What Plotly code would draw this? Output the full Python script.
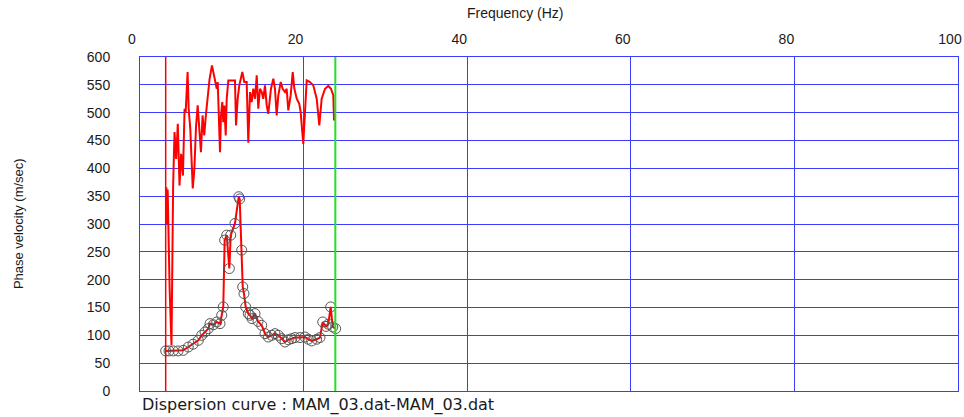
import plotly.graph_objects as go

# ---------------- data ----------------
# upper (noisy) branch: frequency (Hz), phase velocity (m/sec)
upper_freq = [3.22, 3.30, 3.38, 3.48, 3.62, 3.85, 4.05, 4.22, 4.42, 4.62, 4.83, 5.03, 5.25, 5.45,
              5.58, 5.82, 5.95, 6.15, 6.45, 6.65, 6.85, 7.05, 7.25, 7.45, 7.65, 7.85, 8.05, 8.25,
              8.50, 8.80, 9.17, 9.38, 9.50, 9.66, 9.78, 9.90, 10.06, 10.18, 10.31, 10.48, 10.60,
              10.80, 11.41, 11.61, 11.74, 11.94, 12.14, 12.51, 12.75, 13.04, 13.24, 13.45, 13.65,
              13.85, 14.06, 14.27, 14.46, 14.67, 14.88, 15.07, 15.28, 15.49, 15.68, 16.01, 16.30,
              16.50, 16.71, 16.91, 17.20, 17.44, 17.73, 17.93, 18.13, 18.42, 18.67, 18.87, 19.16,
              19.47, 19.64, 19.96, 20.17, 20.38, 20.78, 21.19, 21.60, 21.92, 22.21, 22.62, 23.02,
              23.35, 23.63, 23.72]
upper_vel = [366, 300, 362, 274, 185, 82, 369, 465, 417, 480, 369, 426, 387, 507,
             500, 573, 507, 470, 364, 400, 475, 513, 475, 429, 495, 459, 495, 531,
             560, 585, 555, 543, 555, 495, 429, 495, 519, 483, 513, 459, 525,
             558, 558, 558, 477, 525, 549, 573, 555, 555, 446, 537, 519,
             543, 525, 567, 507, 543, 537, 525, 549, 513, 498, 543, 561,
             543, 495, 531, 555, 543, 537, 543, 504, 531, 573, 543, 525,
             516, 501, 444, 501, 558, 555, 549, 525, 477, 525, 543, 548,
             543, 531, 486]

# lower (picked) branch with circle markers
lower_freq = [3.14, 3.55, 4.07, 4.65, 5.29, 5.90, 6.48, 7.13, 7.54, 7.95, 8.35, 8.56, 8.96,
              9.38, 9.78, 9.99, 10.18, 10.35, 10.60, 10.92, 11.09, 11.61, 12.07, 12.19, 12.43,
              12.56, 12.71, 12.92, 13.24, 13.45, 13.69, 14.06, 14.43, 14.88, 15.28, 15.68,
              16.10, 16.50, 16.91, 17.32, 17.73, 18.13, 18.55, 18.95, 19.56, 20.17, 20.57,
              20.99, 21.60, 22.00, 22.34, 22.74, 23.02, 23.31, 23.56, 23.92]
lower_vel = [72, 72, 72, 72, 73, 79, 84, 91, 100, 106, 112, 121, 119,
             124, 121, 136, 151, 271, 280, 220, 280, 301, 349, 345, 253,
             187, 175, 151, 139, 136, 130, 139, 125, 118, 103, 97,
             100, 103, 100, 94, 88, 92, 94, 96, 96, 97, 93,
             90, 93, 96, 124, 116, 120, 151, 115, 112]

f_low = 3.14    # lower frequency limit (red line)
f_high = 23.88  # upper frequency limit (green line)

x_ticks = [0, 20, 40, 60, 80, 100]
y_ticks = [0, 50, 100, 150, 200, 250, 300, 350, 400, 450, 500, 550, 600]

# ---------------- figure ----------------
FONT = "Liberation Sans, Arial, sans-serif"
TXT = "#1a1a1a"
GRID = "rgb(60,60,255)"

fig = go.Figure()

fig.add_trace(go.Scatter(
    x=upper_freq, y=upper_vel, mode="lines",
    line=dict(color="#ff0000", width=2), showlegend=False, hoverinfo="skip"))

fig.add_trace(go.Scatter(
    x=lower_freq, y=lower_vel, mode="lines+markers",
    line=dict(color="#ff0000", width=2),
    marker=dict(symbol="circle", size=10, color="rgba(0,0,0,0)",
                line=dict(color="#555555", width=1)),
    showlegend=False, hoverinfo="skip"))

fig.add_shape(type="line", xref="x", yref="paper", x0=f_low, x1=f_low, y0=0, y1=1,
              line=dict(color="#ff0000", width=1.5))
fig.add_shape(type="line", xref="x", yref="paper", x0=f_high, x1=f_high, y0=0, y1=1,
              line=dict(color="#22e022", width=2))

fig.update_layout(
    width=964, height=417,
    margin=dict(l=140, r=6, t=57, b=26, autoexpand=False),
    paper_bgcolor="white", plot_bgcolor="white",
    font=dict(family=FONT, size=14, color=TXT),
    showlegend=False,
    hovermode=False,
    xaxis=dict(
        range=[0, 100], side="top", tickvals=x_ticks, ticktext=[str(v) for v in x_ticks],
        showgrid=True, gridcolor=GRID, gridwidth=1, automargin=False,
        showline=True, linecolor=GRID, linewidth=1, mirror=True,
        zeroline=False, ticks="", ticklabelstandoff=6, ticklabelshift=-8,
        tickfont=dict(size=14, color=TXT),
    ),
    yaxis=dict(
        range=[0, 600], tickvals=y_ticks, ticktext=[str(v) for v in y_ticks],
        showgrid=True, gridcolor=GRID, gridwidth=1, automargin=False,
        showline=True, linecolor=GRID, linewidth=1, mirror=True,
        zeroline=False, ticks="", ticklabelstandoff=26,
        tickfont=dict(size=14, color=TXT),
    ),
    annotations=[
        dict(text="Frequency (Hz)", xref="paper", yref="paper", x=0.458, y=1.132,
             xanchor="center", yanchor="middle", showarrow=False,
             font=dict(size=14, color=TXT, family=FONT)),
        dict(text="Phase velocity (m/sec)", xref="paper", yref="paper", x=-0.149, y=0.5,
             xanchor="center", yanchor="middle", textangle=-90, showarrow=False,
             font=dict(size=13, color=TXT, family=FONT)),
        dict(text="Dispersion curve : MAM_03.dat-MAM_03.dat", xref="paper", yref="paper",
             x=0.0, y=-0.042, xanchor="left", yanchor="middle", showarrow=False,
             font=dict(size=16, color=TXT, family="DejaVu Sans, sans-serif")),
    ],
)

# remove the default 8px page margin so the figure fills the window exactly
fig.write_html("out.html", config={"displayModeBar": False},
               post_script="document.body.style.margin='0';")
